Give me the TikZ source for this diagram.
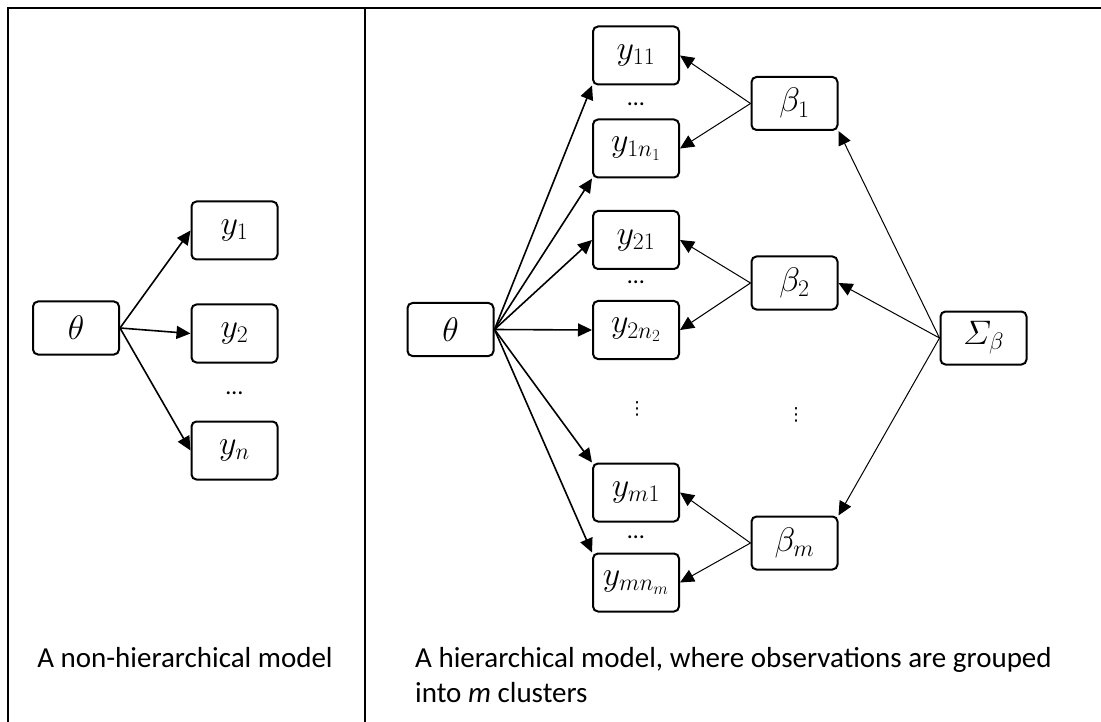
\RequirePackage{fix-cm}
\documentclass[tikz,border=0pt]{standalone}
\usepackage{amsmath}
\usepackage{fontspec}
\setmainfont{Carlito}
\newfontfamily\symfont{DejaVu Sans}
\usepackage{tikz}
\usetikzlibrary{arrows.meta,positioning}
\tikzset{font=\fontsize{29}{35}\selectfont}
\tikzset{every node/.append style={transform shape=false}}
\tikzset{obs/.style={draw,line width=2pt,rounded corners=5pt,minimum width=86pt,minimum height=58pt,inner sep=0pt,font=\fontsize{34}{40}\selectfont}}
\tikzset{par/.style={obs,minimum height=53pt}}
\tikzset{thickarr/.style={line width=1.6pt,-{Triangle[length=14pt,width=13pt]}}}
\tikzset{thinarr/.style={line width=1pt,-{Triangle[length=14pt,width=13pt]}}}
\tikzset{hdots/.style={inner sep=0pt,font=\fontsize{24}{24}\selectfont}}
\tikzset{vdots/.style={inner sep=0pt,font=\symfont\fontsize{18}{18}\selectfont}}

\begin{document}
\begin{tikzpicture}[x=1pt,y=-1pt]
\useasboundingbox (0,0) rectangle (1101,722);
\draw[line width=2pt] (8,722)--(8,8)--(1101,8);
\draw[line width=2pt] (365,8)--(365,722);
% non-hierarchical
\node[par] (thetaL) at (76,328) {$\theta$};
\node[obs] (y1) at (234.5,230.5) {$y_1$};
\node[obs] (y2) at (234.5,333.5) {$y_2$};
\node[hdots] (dotsL) at (234.5,393) {…};
\node[obs] (yn) at (234.5,450.5) {$y_n$};
\draw[thickarr] (thetaL.east)--(y1.west);
\draw[thickarr] (thetaL.east)--(y2.west);
\draw[thickarr] (thetaL.east)--(yn.west);
\node (capL) at (185,658) {A non-hierarchical model};
% hierarchical
\node[par] (thetaR) at (450.5,329.5) {$\theta$};
\node[obs] (y11) at (636,55.5) {$y_{11}$};
\node[hdots] (dots1) at (636,104) {…};
\node[obs] (y1n) at (636,148.5) {$y_{1n_1}$};
\node[obs] (y21) at (636,240) {$y_{21}$};
\node[hdots] (dots2) at (636,282) {…};
\node[obs] (y2n) at (636,330) {$y_{2n_2}$};
\node[vdots] (vdotsY) at (637,409) {⋮};
\node[obs] (ym1) at (636,492.5) {$y_{m1}$};
\node[hdots] (dotsm) at (636,537) {…};
\node[obs] (ymn) at (636,582.5) {$y_{mn_m}$};
\node[par] (beta1) at (794.5,103.5) {$\beta_1$};
\node[par] (beta2) at (794.5,283) {$\beta_2$};
\node[vdots] (vdotsB) at (796,415) {⋮};
\node[par] (betam) at (794.5,543) {$\beta_m$};
\node[par] (sigma) at (983.5,338) {$\varSigma_\beta$};
\draw[thickarr] (thetaR.east)--(y11.south west);
\draw[thickarr] (thetaR.east)--(y1n.south west);
\draw[thickarr] (thetaR.east)--(y21.west);
\draw[thickarr] (thetaR.east)--(y2n.west);
\draw[thickarr] (thetaR.east)--(ym1.north west);
\draw[thickarr] (thetaR.east)--(ymn.north west);
\draw[thinarr] (beta1.west)--(y11.east);
\draw[thinarr] (beta1.west)--(y1n.east);
\draw[thinarr] (beta2.west)--(y21.east);
\draw[thinarr] (beta2.west)--(y2n.east);
\draw[thinarr] (betam.west)--(ym1.east);
\draw[thinarr] (betam.west)--(ymn.east);
\draw[thinarr] (sigma.west)--(beta1.south east);
\draw[thinarr] (sigma.west)--(beta2.east);
\draw[thinarr] (sigma.west)--(betam.north east);
\node[anchor=west,align=left,inner sep=0pt] (capR) at (415,675)
 {A hierarchical model, where observations are grouped\\into \textit{m} clusters};
\end{tikzpicture}
\end{document}
